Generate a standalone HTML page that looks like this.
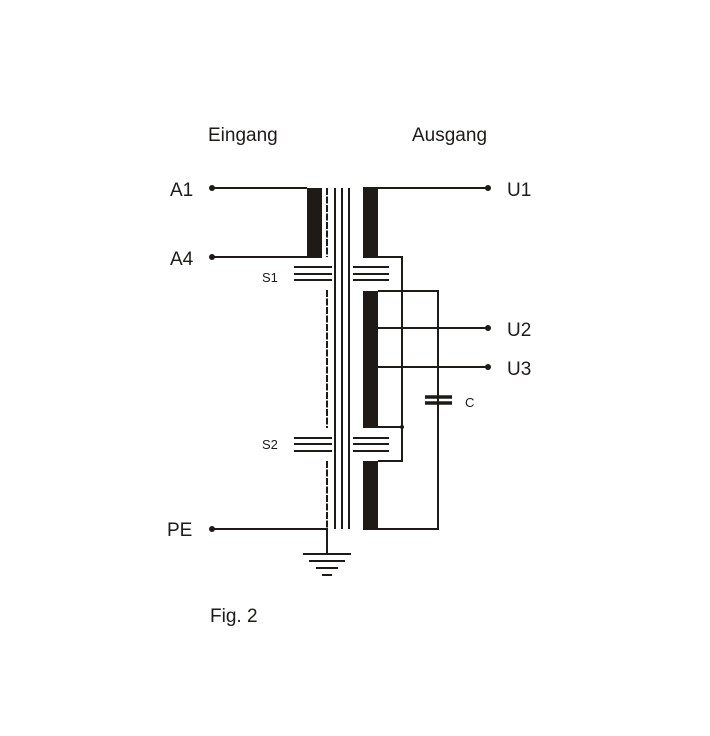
<!DOCTYPE html>
<html><head><style>body{margin:0;background:#fff}svg{display:block}</style></head><body>
<svg width="710" height="736" xmlns="http://www.w3.org/2000/svg" font-family="Liberation Sans, sans-serif">
<rect width="710" height="736" fill="#fff"/>
<g fill="#1e1a18">
<rect x="307" y="188" width="15" height="70"/>
<rect x="363" y="188" width="15" height="70"/>
<rect x="363" y="291" width="15" height="137"/>
<rect x="363" y="461" width="15" height="69"/>
</g>
<g stroke="#1e1a18" stroke-width="2" fill="none">
<path d="M212 188H307M212 257H307M363 188H488"/>
<path d="M378 257H402V461H378M378 291H438V529H378M378 427H402"/>
<path d="M378 328H488M378 367H488"/>
<path d="M212 529H327V554"/>
<path d="M335 188V529M342 188V529M349 188V529"/>
<path d="M327 188V257M327 290V428M327 461V529" stroke-dasharray="7,1.5"/>
<path d="M294 267H332M294 274H332M294 280H332M353 267H389M353 274H389M353 280H389"/>
<path d="M294 438H332M294 444H332M294 451H332M353 438H389M353 444H389M353 451H389"/>
<path d="M303 554H351M309 561H345M316 568H338M322 575H332"/>
</g>
<path d="M425 397H452M425 403H452" stroke="#1e1a18" stroke-width="3.5"/>
<g fill="#1e1a18"><circle cx="212" cy="188" r="3"/><circle cx="212" cy="257" r="3"/><circle cx="212" cy="529" r="3"/><circle cx="488" cy="188" r="3"/><circle cx="488" cy="328" r="3"/><circle cx="488" cy="367" r="3"/><circle cx="402" cy="427" r="2"/></g>
<g fill="#1e1a18" font-size="19">
<text x="208" y="141">Eingang</text><text x="412" y="141">Ausgang</text>
<text x="170" y="196">A1</text><text x="170" y="265">A4</text><text x="167" y="536">PE</text>
<text x="507" y="196">U1</text><text x="507" y="336">U2</text><text x="507" y="375">U3</text>
<text x="210" y="622">Fig. 2</text>
</g>
<g fill="#1e1a18" font-size="13"><text x="262" y="282">S1</text><text x="262" y="449">S2</text><text x="465" y="407">C</text></g>
</svg>
</body></html>
